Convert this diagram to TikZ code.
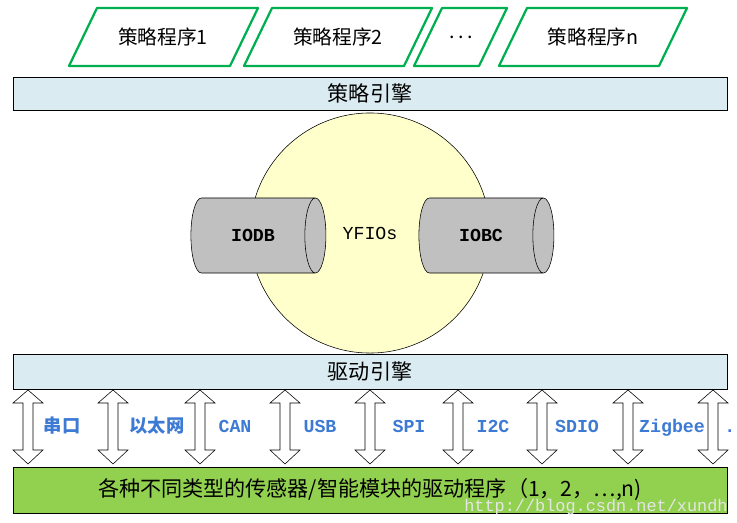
\documentclass[tikz,border=0pt]{standalone}
\usepackage{fontspec}
\setmainfont{Liberation Mono}
\newfontfamily\cjk{Noto Sans CJK SC}
\usetikzlibrary{shapes.geometric}

\definecolor{progGreen}{RGB}{0,176,80}
\definecolor{barBlue}{RGB}{218,236,242}
\definecolor{coreYellow}{RGB}{255,255,204}
\definecolor{dbGray}{RGB}{192,192,192}
\definecolor{devGreen}{RGB}{146,208,80}
\definecolor{busBlue}{RGB}{60,122,212}

\tikzset{
  prog/.style={draw=progGreen, line width=1.6pt, line join=round},
  bar/.style={draw, thin, minimum width=17.85cm, inner sep=0pt, font=\cjk\fontsize{15}{17}\selectfont},
  db/.style={cylinder, draw, thin, fill=dbGray, shape aspect=1.7, minimum width=1.875cm,
    minimum height=3.375cm, inner sep=0pt, font=\bfseries\fontsize{13}{15}\selectfont},
  biarrow/.style={draw, thin, fill=white},
  bus/.style={text=busBlue, font=\bfseries\fontsize{13}{15}\selectfont, inner sep=0pt, anchor=base}
}

\begin{document}
\begin{tikzpicture}[x=0.025cm, y=-0.025cm]

\useasboundingbox (0,0) rectangle (737,522);

%% The strategy programs
\foreach \tl/\tr/\cx/\name/\txt in {97/258/163/p1/策略程序1, 272/432/338/p2/策略程序2,
    442/507/461/p3/{.\,.\,.}, 527/687/593/pn/策略程序n}{
  \draw[prog] (\tl,8) -- (\tr,8) -- (\tr-28,66) -- (\tl-28,66) -- cycle;
  \node[font=\cjk\fontsize{14}{16}\selectfont] (\name) at (\cx,37) {\txt};
}

%% The strategy engine
\node[bar, fill=barBlue, minimum height=0.825cm] (engine) at (370,93.5) {策略引擎};

%% The core with the two databases
\node[circle, draw, thin, fill=coreYellow, minimum size=6cm, inner sep=0pt,
  font=\fontsize{13}{15}\selectfont] (core) at (370,233) {YFIOs};
\node[db] (iodb) at (253,235.5) {IODB};
\node[db] (iobc) at (481,235.5) {IOBC};

%% The driver engine
\node[bar, fill=barBlue, minimum height=0.875cm] (driver) at (370,371.5) {驱动引擎};

%% The drivers of the devices
\node[bar, fill=devGreen, minimum height=1.15cm] (devices) at (370,490)
  {\fontsize{15}{17}\selectfont 各种不同类型的传感器/智能模块的驱动程序（1，2，…,n)};

%% The two-way arrows between driver engine and devices
\foreach \cx in {28,113,200,285,370,458,542,628,713}
  \draw[biarrow] (\cx,390) -- (\cx+15,403) -- (\cx+5,403) -- (\cx+5,450) -- (\cx+15,450)
    -- (\cx,464) -- (\cx-15,450) -- (\cx-5,450) -- (\cx-5,403) -- (\cx-15,403) -- cycle;

%% The bus names
\foreach \lx/\name/\txt in {62/serial/\cjk 串口, 157/ether/\cjk 以太网, 235/can/CAN,
    320/usb/USB, 409/spi/SPI, 493/itc/I2C, 577/sdio/SDIO, 672/zigbee/Zigbee}
  \node[bus] (\name) at (\lx,432) {\txt};
\node[bus, anchor=base west] (more) at (724,432) {.};

%% The watermark
\node[text=black!10, font=\fontsize{12}{14}\selectfont] (mark) at (596,507) {http://blog.csdn.net/xundh};

\end{tikzpicture}
\end{document}
